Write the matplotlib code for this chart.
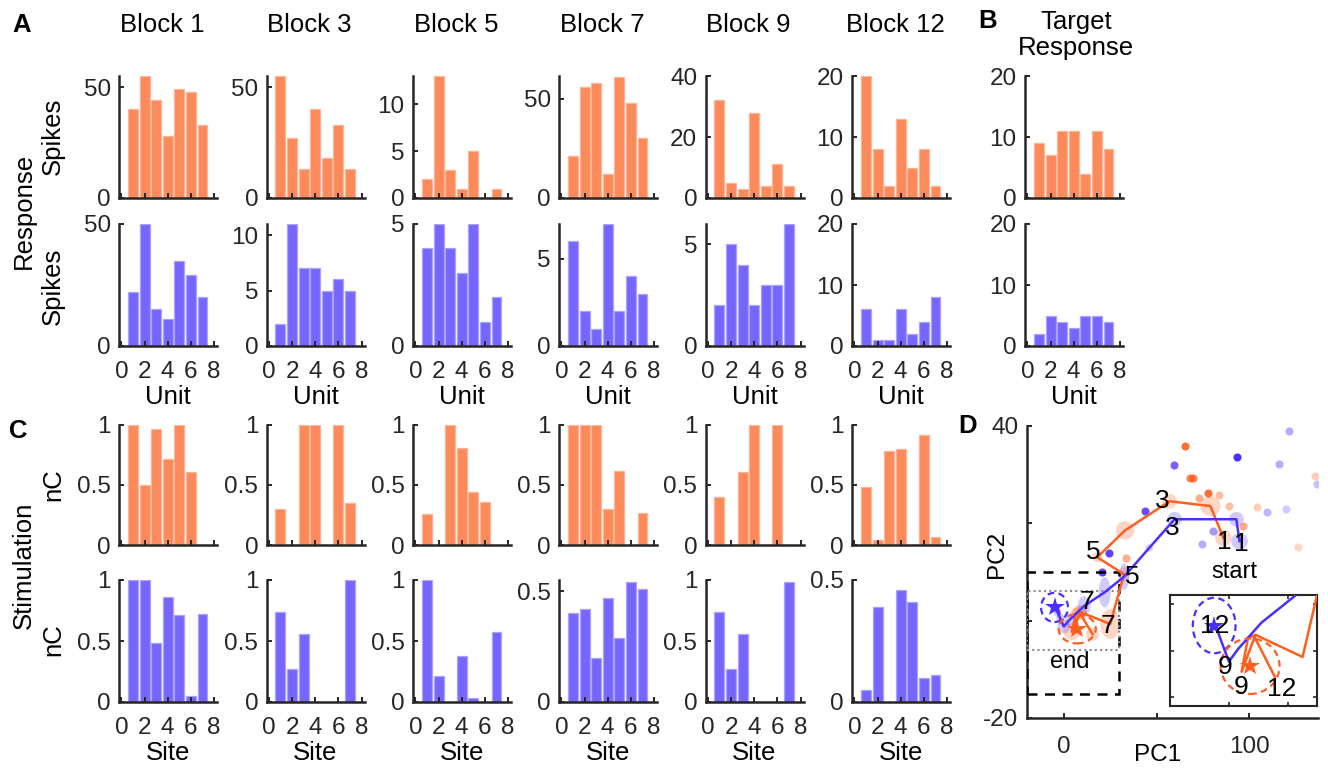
import matplotlib
matplotlib.use('Agg')
import matplotlib.pyplot as plt
from matplotlib.patches import Ellipse, Rectangle

plt.rcParams['font.family'] = ['Liberation Sans', 'DejaVu Sans']

# ---------------- data ----------------
blocks = ['Block 1', 'Block 3', 'Block 5', 'Block 7', 'Block 9', 'Block 12']
units = [1, 2, 3, 4, 5, 6, 7]
sites = [1, 2, 3, 4, 5, 6, 7]

resp_orange = [[40, 55, 44, 28, 49, 48, 33],
               [55, 27, 13, 40, 18, 33, 13],
               [2, 13, 3, 1, 5, 0, 1],
               [21, 56, 58, 12, 61, 48, 30],
               [32, 5, 3, 28, 4, 11, 4],
               [20, 8, 2, 13, 5, 8, 2]]
resp_blue = [[22, 50, 15, 11, 35, 29, 20],
             [2, 11, 7, 7, 5, 6, 5],
             [4, 5, 4, 3, 5, 1, 2],
             [6, 2, 1, 7, 2, 4, 3],
             [2, 5, 4, 2, 3, 3, 6],
             [6, 1, 1, 6, 2, 4, 8]]
target_orange = [9, 7, 11, 11, 4, 11, 8]
target_blue = [2, 5, 4, 3, 5, 5, 4]

stim_orange = [[1.0, 0.5, 0.97, 0.72, 1.0, 0.61, 0.0],
               [0.3, 0.0, 1.0, 1.0, 0.0, 1.0, 0.35],
               [0.26, 0.0, 1.0, 0.81, 0.44, 0.36, 0.0],
               [1.0, 1.0, 1.0, 0.3, 0.62, 0.0, 0.27],
               [0.4, 0.0, 0.61, 1.0, 0.0, 1.0, 0.0],
               [0.48, 0.04, 0.78, 0.8, 0.0, 0.92, 0.07]]
stim_blue = [[1.0, 1.0, 0.48, 0.86, 0.71, 0.05, 0.72],
             [0.74, 0.27, 0.56, 0.0, 0.0, 0.0, 1.0],
             [1.0, 0.21, 0.0, 0.38, 0.03, 0.0, 0.57],
             [0.4, 0.42, 0.2, 0.47, 0.29, 0.54, 0.51],
             [0.74, 0.27, 0.56, 0.0, 0.0, 0.0, 0.98],
             [0.05, 0.39, 0.0, 0.46, 0.41, 0.1, 0.11]]

# axis limits / ticks per panel
resp_orange_ymax = [55, 55, 13, 61.5, 40, 20]
resp_orange_ticks = [[0, 50], [0, 50], [0, 5, 10], [0, 50], [0, 20, 40], [0, 10, 20]]
resp_blue_ymax = [50, 11, 5, 7, 6, 20]
resp_blue_ticks = [[0, 50], [0, 5, 10], [0, 5], [0, 5], [0, 5], [0, 10, 20]]
stim_orange_ymax = [1, 1, 1, 1, 1, 1]
stim_orange_ticks = [[0, 0.5, 1]] * 6
stim_blue_ymax = [1, 1, 1, 0.55, 1, 0.5]
stim_blue_ticks = [[0, 0.5, 1], [0, 0.5, 1], [0, 0.5, 1], [0, 0.5], [0, 0.5, 1], [0, 0.5]]
target_ymax = 20
target_ticks = [0, 10, 20]
x_ticks = [0, 2, 4, 6, 8]

# PCA trajectories (blocks 1..12)
traj_blocks = [1, 2, 3, 4, 5, 6, 7, 8, 9, 10, 11, 12]
orange_pc1 = [86, 79, 57, 33, 18, 32.5, 25, 9, 4.3, 6.5, 8.5, 15.5]
orange_pc2 = [17, 23.5, 24.5, 18.5, 13, 9.5, -0.7, 1.7, -2.3, 1.4, 1.6, -2.8]
orange_sd1 = [9, 10.8, 8, 10, 5.4, 6, 10.8, 7, 9, 6, 8, 7]
orange_sd2 = [3.4, 4.1, 3, 3.8, 2, 3, 6.2, 2.7, 3.4, 2.5, 3, 2.7]
blue_pc1 = [94.7, 93, 59.7, 46, 32.5, 22, 11, 3.2, 0, -2, -3.5, -4.7]
blue_pc2 = [16.3, 20.8, 20.8, 14.9, 9, 5.8, 3, 0.2, -1.2, 0.5, 1.8, 2.6]
blue_sd1 = [9, 8, 8, 4, 5.4, 6.5, 7, 5, 7, 4, 4, 4]
blue_sd2 = [3.4, 3, 3, 1.5, 5.4, 6.2, 4, 2.5, 2.7, 2, 2, 2]

target_orange_pc = (7.2, -1.7)
target_blue_pc = (-5.0, 2.7)
target_orange_radius = (20, 6)
target_blue_radius = (14.5, 6)

orange_dot_pc1 = [65.5, 67.8, 69.6, 135.5, 77.9, 73.1, 83.5, 88.9, 104.1, 96.4, 126.4, 33.6]
orange_dot_pc2 = [35.8, 29.2, 29.2, 29.7, 26.1, 25.2, 25.7, 23.5, 23.4, 19.4, 15.0, 12.8]
orange_dot_w = [0.9, 0.8, 0.8, 0.3, 0.9, 0.5, 0.4, 0.4, 0.3, 0.55, 0.25, 0.5]
blue_dot_pc1 = [59.6, 93.4, 116.2, 136.6, 121.5, 109.5, 119.8, 44, 80.2, 74.3, 24.2, 20.7]
blue_dot_pc2 = [31.9, 33.6, 32.1, 28.0, 38.9, 22.3, 23.0, 22.5, 18.4, 15.7, 13.9, 9.9]
blue_dot_w = [0.75, 1.0, 0.4, 0.3, 0.4, 0.35, 0.25, 0.85, 0.5, 0.4, 0.9, 0.9]

# ---------------- styling ----------------
W, H = 1328, 769
fig = plt.figure(figsize=(W / 100, H / 100), dpi=100)

OR_FACE = '#FC8A5B'
OR_EDGE = '#FDB495'
BL_FACE = '#7766FE'
BL_EDGE = '#ABA2FF'
OR_LINE = '#FF5F1F'
BL_LINE = '#4A30FF'
AX_COL = '#262626'
TICK_FS = 17.5
LAB_FS = 18.5


def px_axes(left, top, width, height):
    return fig.add_axes([left / W, 1 - (top + height) / H, width / W, height / H])


def style(ax):
    for s in ['top', 'right']:
        ax.spines[s].set_visible(False)
    for s in ['left', 'bottom']:
        ax.spines[s].set_linewidth(1.8)
        ax.spines[s].set_color(AX_COL)
    ax.tick_params(direction='in', length=3.5, width=1.4, colors=AX_COL,
                   labelsize=TICK_FS, labelcolor=AX_COL)
    ax.tick_params(axis='x', pad=11)
    ax.tick_params(axis='y', pad=6)
    ax.patch.set_alpha(0)


col_left = [119, 266.5, 413, 559, 705.5, 852, 1025]
ax_w = 98
rows = [(76, 122), (224, 122), (425, 120), (580, 122)]


def fmt(v):
    return ('%g' % v)


def bar_panel(left, row, xs, vals, ymax, ticks, face, edge, show_x, xlabel=None):
    top, h = rows[row]
    ax = px_axes(left, top, ax_w, h)
    ax.bar(xs, vals, width=0.86, color=face, edgecolor=edge, linewidth=0.9, zorder=1)
    ax.set_xlim(-0.2, 8.25)
    ax.set_ylim(0, ymax)
    ax.set_yticks(ticks)
    ax.set_yticklabels([fmt(t) for t in ticks])
    ax.set_xticks(x_ticks)
    style(ax)
    if show_x:
        ax.set_xticklabels([str(t) for t in x_ticks])
        ax.set_xlabel(xlabel, fontsize=LAB_FS, color='black', labelpad=1)
    else:
        ax.set_xticklabels([])
    return ax


for i in range(6):
    L = col_left[i]
    bar_panel(L, 0, units, resp_orange[i], resp_orange_ymax[i], resp_orange_ticks[i], OR_FACE, OR_EDGE, False)
    bar_panel(L, 1, units, resp_blue[i], resp_blue_ymax[i], resp_blue_ticks[i], BL_FACE, BL_EDGE, True, 'Unit')
    bar_panel(L, 2, sites, stim_orange[i], stim_orange_ymax[i], stim_orange_ticks[i], OR_FACE, OR_EDGE, False)
    bar_panel(L, 3, sites, stim_blue[i], stim_blue_ymax[i], stim_blue_ticks[i], BL_FACE, BL_EDGE, True, 'Site')
    fig.text((L + 43) / W, 1 - 25 / H, blocks[i], fontsize=LAB_FS, ha='center', va='center')

L = col_left[6]
bar_panel(L, 0, units, target_orange, target_ymax, target_ticks, OR_FACE, OR_EDGE, False)
bar_panel(L, 1, units, target_blue, target_ymax, target_ticks, BL_FACE, BL_EDGE, True, 'Unit')
fig.text((L + 51) / W, 1 - 22 / H, 'Target', fontsize=LAB_FS, ha='center', va='center')
fig.text((L + 51) / W, 1 - 48 / H, 'Response', fontsize=LAB_FS, ha='center', va='center')

# row labels
fig.text(53 / W, 1 - 136 / H, 'Spikes', fontsize=LAB_FS, rotation=90, ha='center', va='center')
fig.text(53 / W, 1 - 286 / H, 'Spikes', fontsize=LAB_FS, rotation=90, ha='center', va='center')
fig.text(24 / W, 1 - 211 / H, 'Response', fontsize=LAB_FS, rotation=90, ha='center', va='center')
fig.text(53 / W, 1 - 485 / H, 'nC', fontsize=LAB_FS, rotation=90, ha='center', va='center')
fig.text(53 / W, 1 - 640 / H, 'nC', fontsize=LAB_FS, rotation=90, ha='center', va='center')
fig.text(24 / W, 1 - 565 / H, 'Stimulation', fontsize=LAB_FS, rotation=90, ha='center', va='center')

# panel letters
for txt, x, y in [('A', 22, 25), ('B', 988, 21), ('C', 18, 431), ('D', 968, 426)]:
    fig.text(x / W, 1 - y / H, txt, fontsize=18.5, fontweight='bold', ha='center', va='center')

# ---------------- panel D ----------------
axd = px_axes(1026.7, 425.7, 291.3, 292.3)
axd.set_xlim(-20, 137)
axd.set_ylim(-20, 40)
axd.set_xticks([0, 50, 100])
axd.set_xticklabels(['0', '', '100'])
axd.set_yticks([-20, 0, 20, 40])
axd.set_yticklabels(['-20', '', '', '40'])
style(axd)
axd.tick_params(axis='x', pad=13)
fig.text(1158 / W, 1 - 755 / H, 'PC1', fontsize=LAB_FS - 1, ha='center', va='center')
fig.text(997 / W, 1 - 554 / H, 'PC2', fontsize=LAB_FS - 1, rotation=90, ha='center', va='center')

# scatter dots
for x, y, w in zip(orange_dot_pc1, orange_dot_pc2, orange_dot_w):
    axd.scatter(x, y, s=34, color=OR_LINE, alpha=w, linewidths=0, zorder=2)
for x, y, w in zip(blue_dot_pc1, blue_dot_pc2, blue_dot_w):
    axd.scatter(x, y, s=34, color=BL_LINE, alpha=w, linewidths=0, zorder=2)

# uncertainty ellipses
for x, y, a, b in zip(orange_pc1, orange_pc2, orange_sd1, orange_sd2):
    axd.add_patch(Ellipse((x, y), a, b, facecolor=OR_LINE, alpha=0.25, edgecolor='none', zorder=1))
for x, y, a, b in zip(blue_pc1, blue_pc2, blue_sd1, blue_sd2):
    axd.add_patch(Ellipse((x, y), a, b, facecolor=BL_LINE, alpha=0.25, edgecolor='none', zorder=1))

# boxes
axd.add_patch(Rectangle((-20, -15), 50, 25, fill=False, edgecolor='black', linestyle=(0, (4, 3)),
                        linewidth=1.8, zorder=3))
axd.add_patch(Rectangle((-20, -6), 50, 12, fill=False, edgecolor='#8c8c8c', linestyle=(0, (1, 1.5)),
                        linewidth=1.5, zorder=3))


def draw_traj(ax, fs, labels_o, labels_b):
    ax.plot(orange_pc1, orange_pc2, color=OR_LINE, lw=1.8, zorder=4)
    ax.plot(blue_pc1, blue_pc2, color=BL_LINE, lw=1.8, zorder=5)
    ax.add_patch(Ellipse(target_blue_pc, target_blue_radius[0], target_blue_radius[1], fill=False,
                         edgecolor=BL_LINE, linestyle=(0, (3, 2)), lw=1.6, zorder=5))
    ax.add_patch(Ellipse(target_orange_pc, target_orange_radius[0], target_orange_radius[1], fill=False,
                         edgecolor=OR_LINE, linestyle=(0, (3, 2)), lw=1.6, zorder=5))
    ax.plot(*target_blue_pc, marker='*', color=BL_LINE, ms=15, zorder=6, markeredgewidth=0)
    ax.plot(*target_orange_pc, marker='*', color=OR_LINE, ms=15, zorder=6, markeredgewidth=0)
    for blk, off in labels_o:
        k = traj_blocks.index(blk)
        ax.annotate(str(blk), (orange_pc1[k], orange_pc2[k]), xytext=off, textcoords='offset points',
                    ha='center', va='center', fontsize=fs, zorder=7)
    for blk, off in labels_b:
        k = traj_blocks.index(blk)
        ax.annotate(str(blk), (blue_pc1[k], blue_pc2[k]), xytext=off, textcoords='offset points',
                    ha='center', va='center', fontsize=fs, zorder=7)


draw_traj(axd, 19,
          [(1, (0.5, -3)), (3, (-5, 0)), (5, (-3, 3.5)), (7, (-1.5, -1.5))],
          [(1, (1, -2)), (3, (-1.5, -6)), (5, (6, 0)), (7, (2, 3))])
axd.text(92, 10, 'start', fontsize=17, ha='center', va='center')
axd.text(3.1, -8.5, 'end', fontsize=17, ha='center', va='center')

# inset
axi = px_axes(1170, 595, 147.3, 111)
axi.set_xlim(-20, 30)
axi.set_ylim(-6, 6)
draw_traj(axi, 19,
          [(9, (0, -11)), (12, (5, -9))],
          [(9, (-3, -4)), (12, (0, 0))])
axi.set_xticks([-20, 0, 20])
axi.set_yticks([-5, 0, 5])
axi.set_xticklabels([])
axi.set_yticklabels([])
axi.tick_params(direction='in', length=3, width=1.2, colors=AX_COL, top=True, right=True)
for s in axi.spines.values():
    s.set_linewidth(1.5)
    s.set_color(AX_COL)

fig.savefig('out.png', dpi=100)
